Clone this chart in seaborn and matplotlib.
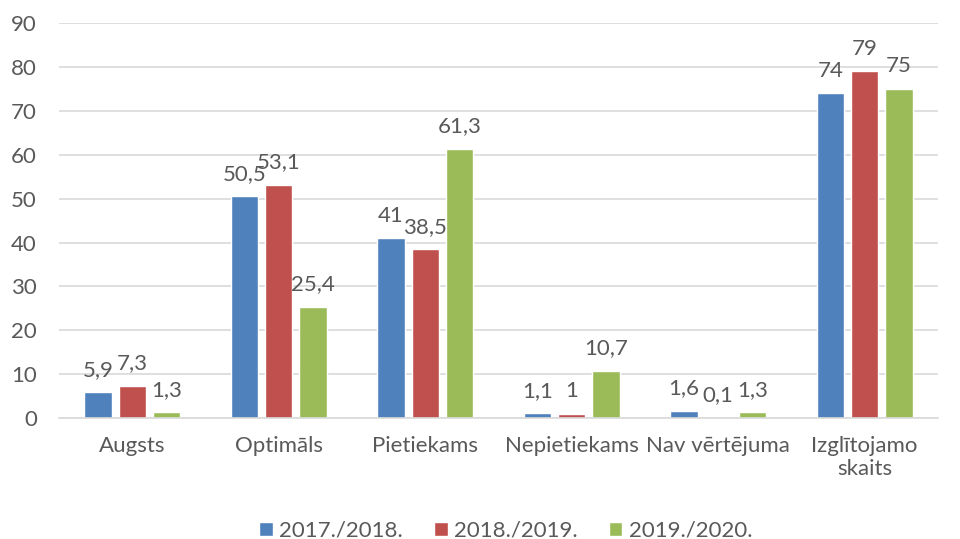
import pandas as pd
import seaborn as sns
import matplotlib.pyplot as plt

# Dati
kategorijas = ["Augsts", "Optimāls", "Pietiekams", "Nepietiekams", "Nav vērtējuma", "Izglītojamo\nskaits"]
gadi = ["2017./2018.", "2018./2019.", "2019./2020."]
v_2017 = [5.9, 50.5, 41, 1.1, 1.6, 74]
v_2018 = [7.3, 53.1, 38.5, 1, 0.1, 79]
v_2019 = [1.3, 25.4, 61.3, 10.7, 1.3, 75]

rows = []
for gads, vert in zip(gadi, [v_2017, v_2018, v_2019]):
    for kat, v in zip(kategorijas, vert):
        rows.append({"Kategorija": kat, "Gads": gads, "Vērtība": v})
df = pd.DataFrame(rows)

krasas = ["#4F81BD", "#C0504D", "#9BBB59"]
teksts = "#595959"
fs = 16

sns.set_theme(style="white")
plt.rcParams['font.family'] = ['Lato', 'DejaVu Sans']

fig = plt.figure(figsize=(9.6, 5.39), dpi=100)
ax = fig.add_axes([0.0615, 0.2245, 0.9155, 0.7325])

sns.barplot(data=df, x="Kategorija", y="Vērtība", hue="Gads", palette=krasas,
            saturation=1, width=0.7, gap=0.2, edgecolor="white", linewidth=1,
            ax=ax, legend=True)

def fmt(v):
    if float(v).is_integer():
        return str(int(v))
    return f"{v:.1f}".replace(".", ",")

for cont, vert in zip(ax.containers, [v_2017, v_2018, v_2019]):
    ax.bar_label(cont, labels=[fmt(v) for v in vert], padding=9, fontsize=fs, color=teksts)

ax.set_ylim(0, 90)
ax.set_yticks(range(0, 91, 10))
ax.yaxis.grid(True, color="#D9D9D9", linewidth=1.2)
ax.set_axisbelow(True)
for s in ["top", "right", "left"]:
    ax.spines[s].set_visible(False)
ax.spines["bottom"].set_color("#D9D9D9")
ax.spines["bottom"].set_linewidth(1.2)
ax.tick_params(axis="both", length=0, labelsize=fs, labelcolor=teksts)
ax.tick_params(axis="x", pad=13)
ax.tick_params(axis="y", pad=16)
ax.set_xlabel("")
ax.set_ylabel("")

handles, labels = ax.get_legend_handles_labels()
ax.get_legend().remove()
fig.legend(handles, labels, loc="lower center", bbox_to_anchor=(0.527, -0.04), ncol=3,
           frameon=False, fontsize=fs, labelcolor=teksts, handlelength=0.6,
           handleheight=0.6, handletextpad=0.3, columnspacing=1.4)

plt.savefig("out.png", dpi=100)
plt.close()
